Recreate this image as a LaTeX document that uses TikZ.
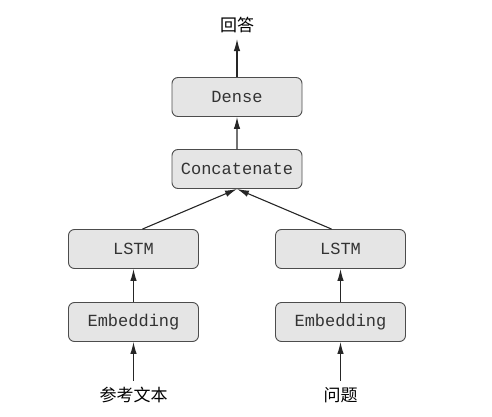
\documentclass[tikz,border=0pt]{standalone}
\usepackage{fontspec}
\usetikzlibrary{arrows.meta,calc}
\newfontfamily\codefont{Liberation Mono}
\newfontfamily\cjk{Noto Sans CJK SC}

\begin{document}
\begin{tikzpicture}[
  x=1pt, y=1pt,
  layer/.style = {draw=black!70, fill=black!10, line width=0.9pt, rounded corners=6pt, text=black!80,
                  minimum width=130pt, minimum height=39pt, font=\codefont\fontsize{17}{17}\selectfont},
  word/.style = {font=\cjk\fontsize{17}{17}\selectfont, inner sep=6pt},
  edge from parent/.style={draw=black!85, line width=1.1pt, {Latex[length=12pt,width=6.5pt]}-},
  straight/.style = {edge from parent path={(\tikzparentnode.south) -- (\tikzchildnode.north)}},
  straight,
  level distance=72pt,
  level 3/.style = {level distance=80pt, sibling distance=207pt,
    edge from parent path={(\tikzparentnode.south) --
      ($(\tikzchildnode.north)!9pt!(\tikzparentnode.south |- \tikzchildnode.north)$)}},
  level 4/.style = {level distance=73pt, straight}
]
  \useasboundingbox (0,0) rectangle (492,416);
  \node[word] (answer) at (237,391) {回答}
  child {node[layer] (dense) {Dense}
    child {node[layer] (concat) {Concatenate}
      child {node[layer] (lstm1) {LSTM}
        child {node[layer] (emb1) {Embedding}
          child {node[word] (text) {参考文本}}
        }
      }
      child {node[layer] (lstm2) {LSTM}
        child {node[layer] (emb2) {Embedding}
          child {node[word] (question) {问题}}
        }
      }
    }
  };
\end{tikzpicture}
\end{document}
